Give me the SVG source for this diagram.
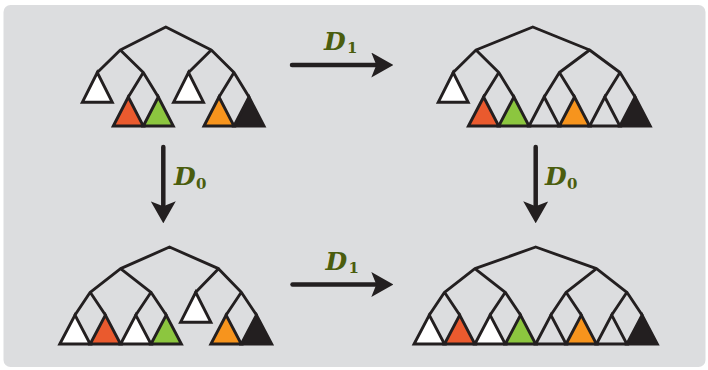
<svg xmlns="http://www.w3.org/2000/svg" width="708" height="370" viewBox="0 0 708 370">
  <defs>
    <style>
      .panel { fill: #dcdddf; }
      .edge { fill: none; stroke: #231f20; stroke-width: 2.9; stroke-linecap: round; stroke-linejoin: round; }
      .leaf { stroke: #231f20; stroke-width: 2.9; stroke-linejoin: miter; }
      .w { fill: #ffffff; }
      .g0 { fill: #dcdddf; }
      .red { fill: #ea5a2e; }
      .grn { fill: #8cc63f; }
      .org { fill: #f7941d; }
      .blk { fill: #231f20; }
      .arrow { fill: none; stroke: #231f20; stroke-width: 4.5; stroke-linecap: round; }
      .lbl { font-family: "DejaVu Serif", "Liberation Serif", serif; font-style: italic; font-weight: bold; font-size: 25px; fill: #4b5d0e; }
      .sub { font-family: "DejaVu Serif", "Liberation Serif", serif; font-weight: bold; font-size: 15px; fill: #4b5d0e; }
    </style>
    <marker id="head" viewBox="0 0 22 25" refX="6" refY="12.5" markerWidth="22" markerHeight="25" markerUnits="userSpaceOnUse" orient="auto">
      <path d="M0,0 L22,12.5 L0,25 L5,12.5 Z" fill="#231f20"/>
    </marker>
  </defs>

  <rect class="panel" x="3.5" y="5" width="702" height="362" rx="7"/>

  <!-- upper-left tree -->
  <g id="tree-top-left">
    <path class="edge" d="M120.3,50 L165.8,27 L211.3,50 M97.3,72.5 L120.3,50 L143.3,72.5 M128.3,97 L143.3,72.5 L158.3,97 M188.5,72.5 L211.3,50 L234,72.5 M219,97 L234,72.5 L249,97"/>
    <polygon class="leaf w" points="82.3,102.3 97.3,72.5 112.3,102.3"/>
    <polygon class="leaf red" points="113.3,126 128.3,97 143.3,126"/>
    <polygon class="leaf grn" points="143.3,126 158.3,97 173.3,126"/>
    <polygon class="leaf w" points="173.5,102.3 188.5,72.5 203.5,102.3"/>
    <polygon class="leaf org" points="204,126 219,97 234,126"/>
    <polygon class="leaf blk" points="234,126 249,97 264,126"/>
  </g>

  <!-- upper-right tree -->
  <g id="tree-top-right">
    <path class="edge" d="M476,50 L532.8,27 L589.6,50 M453.2,72.5 L476,50 L498.8,72.5 M483.6,97 L498.8,72.5 L513.9,97 M559.4,72.5 L589.6,50 L620,72.5 M544.2,97 L559.4,72.5 L574.5,97 M604.8,97 L620,72.5 L635.1,97"/>
    <polygon class="leaf w" points="438.2,102.3 453.2,72.5 468.2,102.3"/>
    <polygon class="leaf red" points="468.45,126 483.6,97 498.75,126"/>
    <polygon class="leaf grn" points="498.75,126 513.9,97 529.05,126"/>
    <polygon class="leaf g0" points="529.05,126 544.2,97 559.35,126"/>
    <polygon class="leaf org" points="559.35,126 574.5,97 589.65,126"/>
    <polygon class="leaf g0" points="589.65,126 604.8,97 619.95,126"/>
    <polygon class="leaf blk" points="619.95,126 635.1,97 650.25,126"/>
  </g>

  <!-- lower-left tree -->
  <g id="tree-bottom-left">
    <path class="edge" d="M120.6,268.7 L169.5,247 L218.5,268.7 M90.2,292.3 L120.6,268.7 L151,292.3 M75,315 L90.2,292.3 L105.4,315 M135.8,315 L151,292.3 L166.2,315 M195.7,292.3 L218.5,268.7 L241.3,292.3 M226.1,315 L241.3,292.3 L256.5,315"/>
    <polygon class="leaf w" points="59.8,344 75,315 90.2,344"/>
    <polygon class="leaf red" points="90.2,344 105.4,315 120.6,344"/>
    <polygon class="leaf w" points="120.6,344 135.8,315 151,344"/>
    <polygon class="leaf grn" points="151,344 166.2,315 181.4,344"/>
    <polygon class="leaf w" points="180.5,322.3 195.7,292.3 210.9,322.3"/>
    <polygon class="leaf org" points="210.9,344 226.1,315 241.3,344"/>
    <polygon class="leaf blk" points="241.3,344 256.5,315 271.7,344"/>
  </g>

  <!-- lower-right tree -->
  <g id="tree-bottom-right">
    <path class="edge" d="M474.9,268.7 L535.7,247 L596.5,268.7 M444.5,292.3 L474.9,268.7 L505.3,292.3 M566.1,292.3 L596.5,268.7 L626.9,292.3 M429.3,315 L444.5,292.3 L459.7,315 M490.1,315 L505.3,292.3 L520.5,315 M550.9,315 L566.1,292.3 L581.3,315 M611.7,315 L626.9,292.3 L642.1,315"/>
    <polygon class="leaf w" points="414.1,344 429.3,315 444.5,344"/>
    <polygon class="leaf red" points="444.5,344 459.7,315 474.9,344"/>
    <polygon class="leaf w" points="474.9,344 490.1,315 505.3,344"/>
    <polygon class="leaf grn" points="505.3,344 520.5,315 535.7,344"/>
    <polygon class="leaf g0" points="535.7,344 550.9,315 566.1,344"/>
    <polygon class="leaf org" points="566.1,344 581.3,315 596.5,344"/>
    <polygon class="leaf g0" points="596.5,344 611.7,315 626.9,344"/>
    <polygon class="leaf blk" points="626.9,344 642.1,315 657.3,344"/>
  </g>

  <!-- maps between the trees -->
  <g id="connectors">
    <path class="arrow" d="M292,65 H377.3" marker-end="url(#head)"/>
    <path class="arrow" d="M292.5,284.5 H377.3" marker-end="url(#head)"/>
    <path class="arrow" d="M163.3,147 V207.3" marker-end="url(#head)"/>
    <path class="arrow" d="M535.7,147 V207.3" marker-end="url(#head)"/>
  </g>

  <g id="labels">
    <text class="lbl" x="324" y="50">D</text><text class="sub" x="347" y="53">1</text>
    <text class="lbl" x="325.5" y="270">D</text><text class="sub" x="348.5" y="273">1</text>
    <text class="lbl" x="174" y="185">D</text><text class="sub" x="196" y="188.5">0</text>
    <text class="lbl" x="545" y="185">D</text><text class="sub" x="567" y="188.5">0</text>
  </g>
</svg>
